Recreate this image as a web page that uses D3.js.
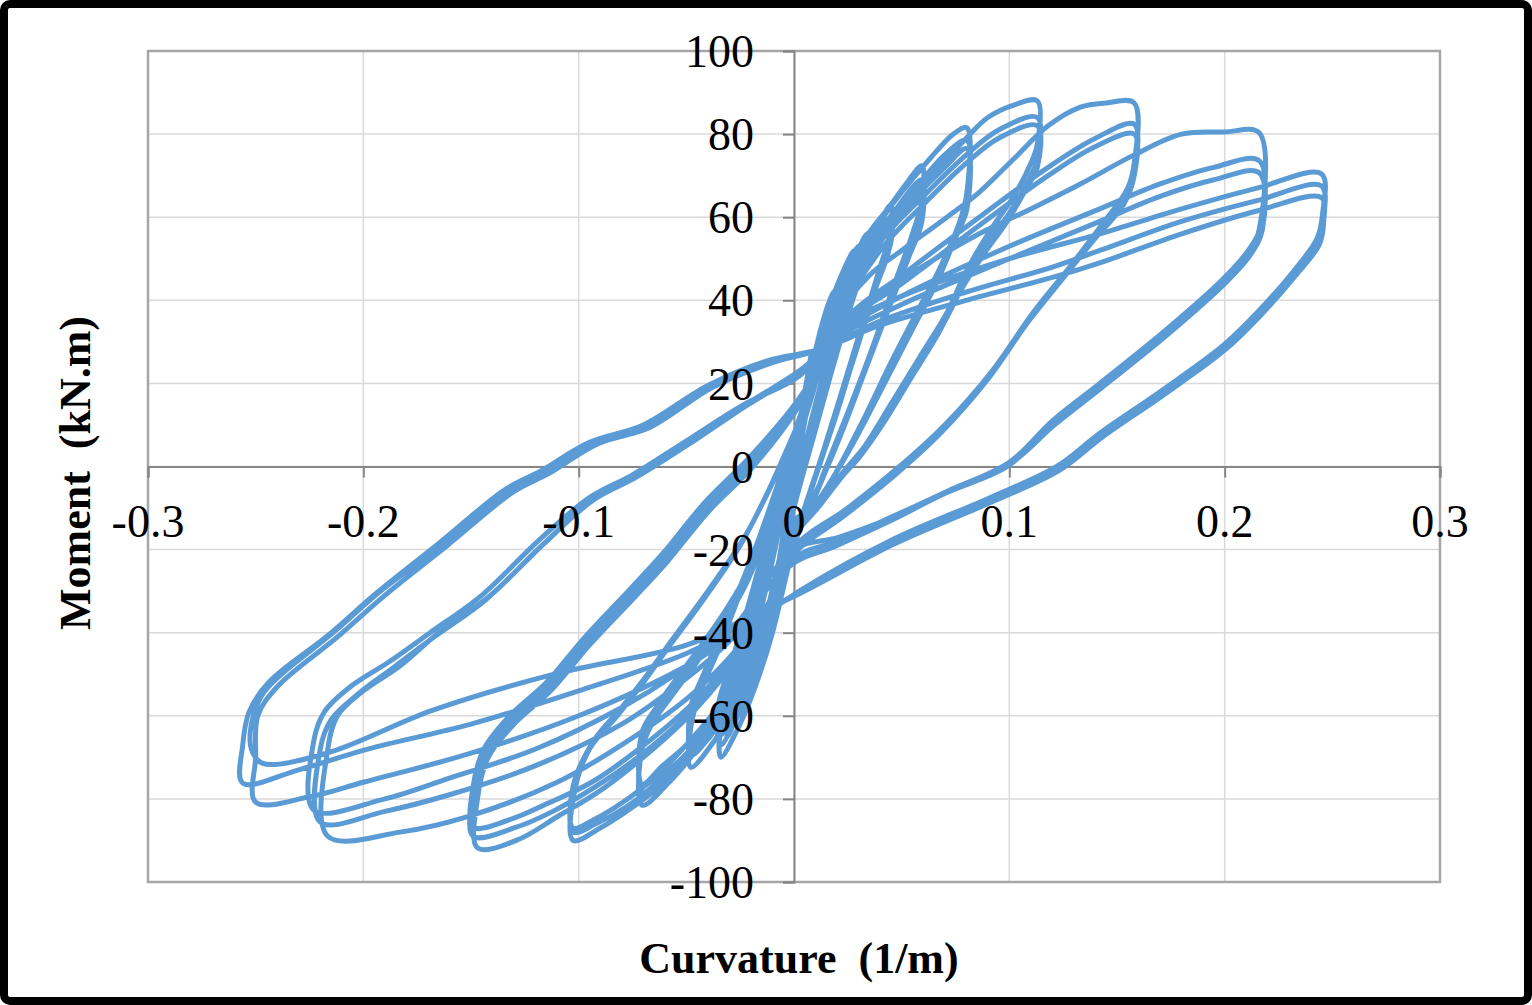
<!DOCTYPE html>
<html>
<head>
<meta charset="utf-8">
<script src="https://cdn.jsdelivr.net/npm/d3@7"></script>
<style>
  body { margin: 0; background: #fff; }
  text { font-family: "Liberation Serif", "Times New Roman", serif; }
</style>
</head>
<body>
<div id="chart"></div>
<script>
// axis ticks
const xTicks = [-0.3, -0.2, -0.1, 0, 0.1, 0.2, 0.3];
const xTickLabels = ["-0.3", "-0.2", "-0.1", "0", "0.1", "0.2", "0.3"];
const yTicks = [-100, -80, -60, -40, -20, 0, 20, 40, 60, 80, 100];

// [curvature (1/m), moment (kN.m)], cycle by cycle
const cycE1 = [[0,0],[0.003,10],[0.006,20],[0.008,27],[0.006,21],[0.002,8],[0,0],[-0.003,-12],[-0.006,-22],[-0.008,-29],[-0.006,-22],[-0.002,-9],[0.001,2]];
const cycE2 = [[0.005,14],[0.01,28],[0.014,36],[0.018,42],[0.015,35],[0.009,21],[0.003,6],[-0.003,-10],[-0.008,-26],[-0.012,-38],[-0.016,-46],[-0.013,-38],[-0.007,-23],[-0.001,-6],[0.004,8]];
const cycE3 = [[0.01,24],[0.017,37],[0.024,47],[0.03,53],[0.029,47],[0.023,36],[0.015,21],[0.008,8],[0.002,-5],[-0.005,-21],[-0.012,-38],[-0.02,-52],[-0.026,-60],[-0.025,-54],[-0.019,-42],[-0.011,-25],[-0.004,-8],[0.003,8]];
const cycE4 = [[0.008,22],[0.015,36],[0.022,46],[0.028,52],[0.027,46],[0.02,34],[0.012,19],[0.005,5],[-0.001,-8],[-0.008,-25],[-0.015,-40],[-0.022,-53],[-0.028,-62],[-0.027,-55],[-0.021,-44],[-0.013,-27],[-0.005,-9],[0.002,7]];
const cycE5 = [[0.009,23],[0.018,38],[0.027,49],[0.034,56],[0.033,50],[0.026,38],[0.017,22],[0.009,7],[0.002,-6],[-0.006,-22],[-0.014,-40],[-0.023,-55],[-0.031,-65],[-0.03,-58],[-0.023,-45],[-0.014,-27],[-0.005,-8],[0.002,7]];

const cyc1a = [[0.01,24],[0.02,39],[0.03,50],[0.038,57],[0.045,63],[0.045,57],[0.04,48],[0.031,33],[0.021,16],[0.012,1],[0.005,-11],[-0.002,-23],[-0.01,-40],[-0.018,-53],[-0.026,-63],[-0.034,-70],[-0.034,-62],[-0.029,-52],[-0.021,-37],[-0.012,-19],[-0.004,-3],[0.003,10],[0.008,20]];
const cyc1b = [[0.018,35],[0.028,47],[0.037,55],[0.045,60],[0.045,54],[0.039,45],[0.03,30],[0.02,13],[0.011,-1],[0.004,-12],[-0.003,-24],[-0.011,-40],[-0.019,-52],[-0.027,-61],[-0.034,-67],[-0.034,-59],[-0.028,-48],[-0.02,-34],[-0.011,-17],[-0.003,-2],[0.004,11],[0.009,20]];
const cyc1c = [[0.017,34],[0.027,45],[0.036,53],[0.044,58],[0.044,52],[0.038,43],[0.029,28],[0.019,12],[0.01,-2],[0.003,-13],[-0.004,-25],[-0.012,-41],[-0.02,-52],[-0.028,-60],[-0.035,-65],[-0.035,-57],[-0.029,-47],[-0.021,-33],[-0.012,-16],[-0.004,-1],[0.003,11],[0.009,20]];

const cyc2a = [[0.016,32],[0.023,43],[0.032,54],[0.045,63],[0.052,68],[0.0594,72.4],[0.0594,64],[0.055,56],[0.046,43],[0.036,28],[0.025,13],[0.015,0],[0.007,-10],[0,-14],[-0.008,-30],[-0.016,-44],[-0.026,-56],[-0.037,-66],[-0.048,-72.4],[-0.048,-63],[-0.044,-55],[-0.035,-44],[-0.024,-29],[-0.013,-13],[-0.003,3],[0.006,17]];
const cyc2b = [[0.015,30],[0.024,42],[0.034,52],[0.046,61],[0.0594,69],[0.0594,61],[0.054,52],[0.045,40],[0.034,25],[0.023,10],[0.014,-2],[0.006,-11],[0,-14],[-0.009,-31],[-0.018,-45],[-0.029,-57],[-0.039,-65],[-0.048,-69.5],[-0.048,-60],[-0.043,-52],[-0.034,-41],[-0.023,-27],[-0.012,-11],[-0.002,4],[0.006,17]];
const cyc2c = [[0.015,29],[0.025,41],[0.035,50],[0.047,59],[0.0594,67],[0.0594,59],[0.053,50],[0.044,38],[0.033,23],[0.022,8],[0.013,-3],[0.005,-11],[0,-13],[-0.01,-31],[-0.019,-44],[-0.03,-55],[-0.04,-62],[-0.048,-67],[-0.048,-58],[-0.042,-50],[-0.033,-39],[-0.022,-25],[-0.011,-10],[-0.001,5],[0.007,18]];

const cyc3a = [[0.015,33],[0.025,47],[0.04,59],[0.05,66],[0.063,74],[0.074,80],[0.0803,81.5],[0.0803,66],[0.077,59],[0.068,48],[0.057,37],[0.045,25],[0.032,11],[0.021,0],[0.011,-9],[0,-15],[-0.01,-32],[-0.02,-46],[-0.032,-58],[-0.045,-68],[-0.058,-76],[-0.0706,-81.5],[-0.0706,-68],[-0.066,-62],[-0.055,-54],[-0.045,-47],[-0.033,-38],[-0.022,-28],[-0.012,-15],[-0.004,-4],[0.003,8],[0.01,20]];
const cyc3b = [[0.015,32],[0.025,45],[0.04,56],[0.055,66],[0.07,75],[0.0803,78.5],[0.0803,64],[0.076,57],[0.067,46],[0.056,35],[0.044,23],[0.031,10],[0.02,-1],[0.01,-9],[0,-15],[-0.011,-33],[-0.022,-47],[-0.035,-59],[-0.048,-68],[-0.06,-74],[-0.0706,-78.5],[-0.0706,-66],[-0.065,-60],[-0.054,-52],[-0.044,-45],[-0.032,-36],[-0.021,-26],[-0.011,-13],[-0.003,-2],[0.004,10],[0.01,20]];
const cyc3c = [[0.015,31],[0.025,44],[0.04,54],[0.055,64],[0.07,72],[0.0803,76.5],[0.0803,62],[0.075,55],[0.066,44],[0.055,33],[0.043,21],[0.03,8],[0.019,-2],[0.009,-10],[0,-15],[-0.012,-34],[-0.024,-48],[-0.037,-59],[-0.05,-67],[-0.061,-72],[-0.0706,-76.5],[-0.0706,-64],[-0.064,-58],[-0.053,-50],[-0.043,-43],[-0.031,-34],[-0.02,-24],[-0.01,-11],[-0.002,0],[0.005,12],[0.01,20]];

const cyc4a = [[0.018,35],[0.025,46],[0.04,57],[0.055,66],[0.071,74],[0.08,79],[0.09,84],[0.102,87],[0.113,88],[0.113,77.6],[0.11,73],[0.102,65],[0.092,57.5],[0.08,47],[0.071,37],[0.058,26],[0.045,15],[0.033,5],[0.025,0],[0.012,-8],[0,-16],[-0.008,-30],[-0.018,-45],[-0.03,-58],[-0.045,-68],[-0.06,-76],[-0.075,-82],[-0.09,-87],[-0.1026,-90],[-0.1026,-80],[-0.095,-68],[-0.082,-60],[-0.07,-52],[-0.059,-44],[-0.042,-32],[-0.025,-19],[-0.012,-6],[0,8],[0.01,20]];
const cyc4b = [[0.02,36],[0.04,54],[0.06,65],[0.08,75],[0.095,81],[0.113,84],[0.113,74],[0.109,69],[0.1,61],[0.09,54],[0.079,44],[0.069,34],[0.056,23],[0.043,12],[0.031,3],[0.024,-1],[0.012,-9],[0,-17],[-0.009,-31],[-0.02,-46],[-0.033,-58],[-0.048,-68],[-0.063,-76],[-0.078,-82],[-0.092,-86],[-0.1026,-88],[-0.1026,-78],[-0.094,-67],[-0.081,-59],[-0.069,-51],[-0.058,-43],[-0.041,-31],[-0.024,-18],[-0.011,-5],[0.001,9],[0.01,20]];
const cyc4c = [[0.02,35],[0.04,52],[0.06,63],[0.08,73],[0.095,79],[0.113,82],[0.113,72],[0.108,67],[0.099,59],[0.088,51],[0.077,42],[0.067,32],[0.054,21],[0.041,10],[0.03,2],[0.023,-2],[0.011,-10],[0,-17],[-0.01,-32],[-0.021,-46],[-0.034,-57],[-0.05,-67],[-0.065,-75],[-0.08,-81],[-0.093,-85],[-0.1026,-87],[-0.1026,-77],[-0.093,-66],[-0.08,-58],[-0.068,-50],[-0.057,-42],[-0.04,-30],[-0.023,-17],[-0.01,-4],[0.002,10],[0.012,23]];

const cyc5a = [[0.02,36],[0.035,46],[0.05,52],[0.071,60],[0.086,66],[0.102,74],[0.118,82],[0.133,86.5],[0.145,87.5],[0.158,87.5],[0.158,73],[0.155,67],[0.142,57.5],[0.128,48],[0.111,37],[0.092,23],[0.07,10],[0.049,0],[0.025,-10],[0,-19.5],[-0.01,-32],[-0.025,-45],[-0.045,-58],[-0.07,-70],[-0.09,-78],[-0.109,-84],[-0.129,-90],[-0.147,-91.8],[-0.147,-80],[-0.142,-70],[-0.13,-62],[-0.113,-54],[-0.095,-43],[-0.075,-32],[-0.059,-23],[-0.04,-11],[-0.019,0],[0.001,13.5],[0.012,24]];
const cyc5b = [[0.025,36],[0.05,46],[0.086,60],[0.118,72],[0.14,79],[0.158,82.4],[0.158,71],[0.154,65],[0.141,56],[0.127,47],[0.11,36],[0.091,22],[0.069,9],[0.048,-1],[0.024,-11],[0,-20],[-0.011,-33],[-0.026,-46],[-0.046,-58],[-0.07,-69],[-0.092,-77],[-0.112,-83],[-0.13,-87],[-0.149,-89],[-0.149,-79],[-0.143,-69],[-0.131,-61],[-0.114,-53],[-0.096,-42],[-0.076,-31],[-0.06,-22],[-0.041,-10],[-0.02,1],[0,13],[0.012,24]];
const cyc5c = [[0.025,35],[0.05,44],[0.086,58],[0.118,70],[0.14,77],[0.158,80],[0.158,70],[0.153,63],[0.14,55],[0.126,46],[0.109,35],[0.09,21],[0.068,8],[0.047,-2],[0.023,-12],[0,-21],[-0.012,-33],[-0.027,-45],[-0.047,-57],[-0.072,-68],[-0.094,-76],[-0.114,-81],[-0.132,-85],[-0.149,-86.8],[-0.149,-77],[-0.144,-68],[-0.132,-60],[-0.115,-52],[-0.097,-41],[-0.077,-30],[-0.061,-21],[-0.042,-9],[-0.021,2],[-0.001,14],[0.012,24]];

const cyc6a = [[0.025,36],[0.05,45],[0.086,56],[0.11,62],[0.133,68],[0.158,75],[0.18,80],[0.2,80.5],[0.216,80.3],[0.216,57],[0.211,51],[0.199,44],[0.173,32],[0.142,19],[0.12,10],[0.099,0],[0.07,-6.5],[0.045,-13],[0.02,-19],[-0.002,-24],[-0.015,-36],[-0.03,-46],[-0.05,-56],[-0.08,-67],[-0.11,-76],[-0.15,-84],[-0.183,-88],[-0.2165,-89],[-0.2165,-68],[-0.212,-60],[-0.2,-54],[-0.183,-48],[-0.165,-40],[-0.141,-31],[-0.115,-18],[-0.091,-7],[-0.0715,-1.7],[-0.045,7],[-0.019,16],[0.005,24]];
const cyc6b = [[0.02,32],[0.05,41],[0.1,53],[0.142,62],[0.17,68],[0.195,72],[0.216,73.6],[0.217,58],[0.211,52],[0.199,45],[0.173,33],[0.142,20],[0.12,11],[0.1,1],[0.071,-6],[0.046,-12],[0.02,-18],[0,-22],[-0.03,-42],[-0.055,-53],[-0.08,-62],[-0.12,-72],[-0.16,-79],[-0.19,-83],[-0.22,-85.6],[-0.22,-68],[-0.215,-61],[-0.203,-55],[-0.185,-48],[-0.167,-41],[-0.143,-32],[-0.117,-19],[-0.093,-8],[-0.073,-2.5],[-0.047,6],[-0.021,15],[0.004,23]];
const cyc6c = [[0.02,31],[0.05,39],[0.1,50],[0.142,59],[0.17,65],[0.195,69],[0.216,70.7],[0.2175,57],[0.212,51],[0.2,44],[0.174,32],[0.143,19],[0.121,10],[0.1,0.5],[0.072,-6],[0.047,-12],[0.021,-17],[0,-20],[-0.03,-40],[-0.055,-50],[-0.08,-58],[-0.12,-68],[-0.16,-75],[-0.19,-80],[-0.223,-82.7],[-0.223,-66],[-0.218,-59],[-0.206,-53],[-0.188,-47],[-0.169,-40],[-0.145,-31],[-0.119,-18],[-0.095,-7.5],[-0.075,-2],[-0.049,6.5],[-0.023,15],[0.003,22]];

const cyc7a = [[0.02,33],[0.05,41],[0.1,50],[0.142,56],[0.18,62],[0.215,67],[0.245,70.4],[0.2455,61],[0.243,55],[0.232,47],[0.215,37],[0.199,29],[0.17,18],[0.142,8],[0.122,0],[0.091,-7.5],[0.045,-17.8],[0.003,-29.8],[-0.02,-38],[-0.05,-48],[-0.1,-60],[-0.15,-69],[-0.2,-76],[-0.225,-79.5],[-0.25,-80.8],[-0.25,-70],[-0.249,-60],[-0.24,-53],[-0.212,-41],[-0.19,-31],[-0.161,-19],[-0.13,-6],[-0.114,-1.7],[-0.091,5.5],[-0.067,9.4],[-0.038,19],[-0.01,25],[0.011,28]];
const cyc7b = [[0.04,35],[0.08,42],[0.12,48],[0.142,52],[0.18,59],[0.215,64],[0.245,67.5],[0.246,60],[0.2435,54],[0.2325,46.5],[0.2155,36.5],[0.1995,28.5],[0.1705,17.5],[0.1425,7.5],[0.1225,-0.5],[0.0915,-8],[0.0455,-18.3],[0.003,-30],[-0.02,-37],[-0.05,-45],[-0.1,-54],[-0.15,-62],[-0.198,-68],[-0.23,-73],[-0.256,-76.2],[-0.256,-67],[-0.253,-59],[-0.244,-52],[-0.216,-40.5],[-0.194,-30.5],[-0.165,-18.5],[-0.134,-5.5],[-0.118,-1.2],[-0.095,5.8],[-0.07,10],[-0.04,19.5],[-0.012,25.5],[0.011,28]];
const cyc7c = [[0.04,34],[0.08,40],[0.12,45.5],[0.142,49],[0.18,56],[0.215,61.5],[0.245,64.7],[0.246,59],[0.244,53.5],[0.233,46],[0.216,36],[0.2,28],[0.171,17],[0.143,7],[0.123,-1],[0.092,-8.5],[0.046,-18.8],[0.003,-30.5],[-0.02,-36],[-0.05,-43],[-0.11,-49.8],[-0.168,-58.7],[-0.217,-69],[-0.247,-71.4],[-0.252,-68],[-0.252,-62],[-0.247,-55],[-0.238,-50],[-0.214,-40],[-0.192,-30],[-0.163,-18.8],[-0.132,-5.8],[-0.116,-1.5],[-0.093,5.6],[-0.068,9.6],[-0.039,19.3],[-0.011,25.3],[0.011,28]];

const cycles = [cycE1, cycE2, cycE3, cycE4, cycE5, cyc1a, cyc1b, cyc1c,
    cyc2a, cyc2b, cyc2c, cyc3a, cyc3b, cyc3c, cyc4a, cyc4b, cyc4c,
    cyc5a, cyc5b, cyc5c, cyc6a, cyc6b, cyc6c, cyc7a, cyc7b, cyc7c];
const record = [].concat(...cycles);

// sizes
const W = 1532, H = 1005;
const margin = {left: 148, top: 51, right: 92, bottom: 123},
    width = W - margin.left - margin.right,
    height = H - margin.top - margin.bottom;

const svg = d3.select("#chart").append("svg")
    .attr("width", W)
    .attr("height", H);

// black frame round the whole picture
svg.append("rect")
    .attr("x", 4).attr("y", 4)
    .attr("width", W - 8).attr("height", H - 8)
    .attr("rx", 6)
    .attr("fill", "#fff")
    .attr("stroke", "#000")
    .attr("stroke-width", 8);

const g = svg.append("g")
    .attr("transform", `translate(${margin.left}, ${margin.top})`);

const xScale = d3.scaleLinear().domain([-0.3, 0.3]).range([0, width]);
const yScale = d3.scaleLinear().domain([-100, 100]).range([height, 0]);

// gridlines
g.append("g").selectAll("line")
    .data(xTicks).enter().append("line")
    .attr("x1", d => xScale(d)).attr("x2", d => xScale(d))
    .attr("y1", 0).attr("y2", height)
    .attr("stroke", "#d9d9d9").attr("stroke-width", 1.5);
g.append("g").selectAll("line")
    .data(yTicks).enter().append("line")
    .attr("x1", 0).attr("x2", width)
    .attr("y1", d => yScale(d)).attr("y2", d => yScale(d))
    .attr("stroke", "#d9d9d9").attr("stroke-width", 1.5);

// plot area border
g.append("rect")
    .attr("width", width).attr("height", height)
    .attr("fill", "none")
    .attr("stroke", "#a6a6a6")
    .attr("stroke-width", 2.5);

// axis lines and ticks sit under the curve
const yAxisG = g.append("g")
    .attr("transform", `translate(${xScale(0)}, 0)`)
    .call(d3.axisLeft(yScale).tickValues(yTicks).tickSize(11).tickFormat(""));
const xAxisG = g.append("g")
    .attr("transform", `translate(0, ${yScale(0)})`)
    .call(d3.axisBottom(xScale).tickValues(xTicks).tickSize(11).tickFormat(""));
[yAxisG, xAxisG].forEach(a => {
    a.select(".domain").attr("stroke", "#868686").attr("stroke-width", 2);
    a.selectAll(".tick line").attr("stroke", "#868686").attr("stroke-width", 2);
});

// the hysteresis record
const line = d3.line()
    .x(d => xScale(d[0]))
    .y(d => yScale(d[1]))
    .curve(d3.curveCatmullRom.alpha(0.5));

g.append("path")
    .datum(record)
    .attr("fill", "none")
    .attr("stroke", "#5b9bd5")
    .attr("stroke-width", 5)
    .attr("stroke-linejoin", "round")
    .attr("stroke-linecap", "round")
    .attr("d", line);

// tick labels drawn over the curve
g.append("g").selectAll("text")
    .data(yTicks).enter().append("text")
    .attr("x", xScale(0) - 40)
    .attr("y", d => yScale(d))
    .attr("dy", "0.35em")
    .attr("text-anchor", "end")
    .attr("font-size", "46px")
    .attr("fill", "#000")
    .text(d => d);

g.append("g").selectAll("text")
    .data(xTicks).enter().append("text")
    .attr("x", d => xScale(d))
    .attr("y", yScale(0) + 70)
    .attr("text-anchor", "middle")
    .attr("font-size", "46px")
    .attr("fill", "#000")
    .text((d, i) => xTickLabels[i]);

// axis titles
svg.append("text")
    .attr("transform", "translate(90, 473) rotate(-90)")
    .attr("text-anchor", "middle")
    .attr("font-size", "44px")
    .attr("font-weight", "bold")
    .attr("xml:space", "preserve")
    .style("white-space", "pre")
    .text("Moment  (kN.m)");

svg.append("text")
    .attr("x", 799)
    .attr("y", 973)
    .attr("text-anchor", "middle")
    .attr("font-size", "44px")
    .attr("font-weight", "bold")
    .attr("xml:space", "preserve")
    .style("white-space", "pre")
    .text("Curvature  (1/m)");
</script>
</body>
</html>
